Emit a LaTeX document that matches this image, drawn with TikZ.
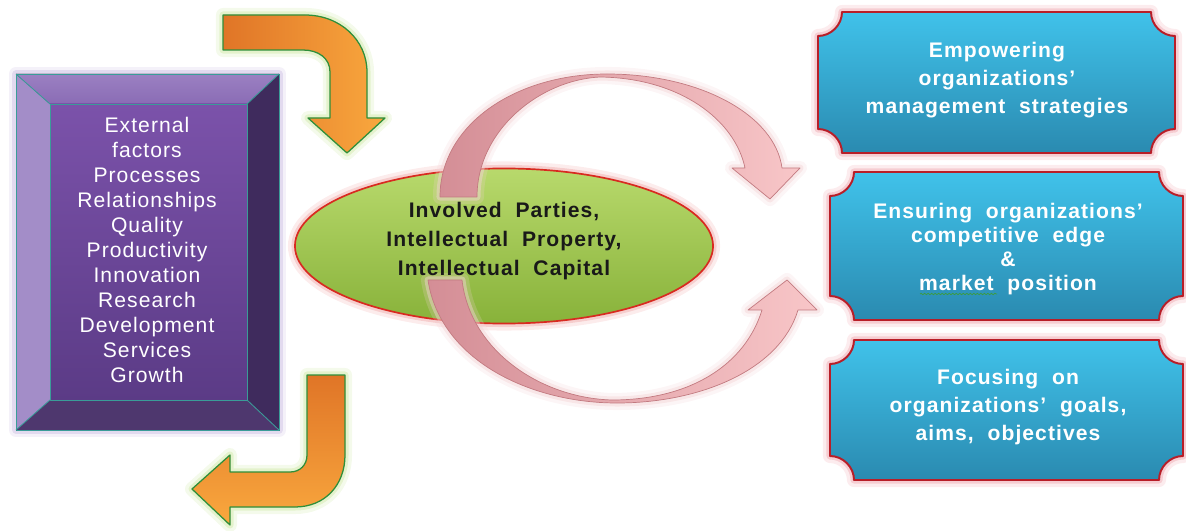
\documentclass[tikz,border=0pt]{standalone}
\usepackage{fontspec}
\usepackage{tikz}
\usetikzlibrary{shapes.geometric,decorations.pathmorphing}
\newfontfamily\diagfont[LetterSpace=5,WordSpace=2]{Liberation Sans}
\definecolor{purpleglow}{HTML}{CDBFE3}
\definecolor{bevelleft}{HTML}{A38DC8}
\definecolor{beveltopA}{HTML}{9B80C2}
\definecolor{beveltopB}{HTML}{8A6CB5}
\definecolor{bevelright}{HTML}{3F2B5D}
\definecolor{bevelbottom}{HTML}{4E376E}
\definecolor{panelA}{HTML}{7B52AA}
\definecolor{panelB}{HTML}{5B3B86}
\definecolor{bevelline}{HTML}{3A9C98}
\definecolor{arrowdark}{HTML}{E07527}
\definecolor{arrowlight}{HTML}{F9A83E}
\definecolor{arrowline}{HTML}{2F8F3A}
\definecolor{greenglow}{HTML}{CFE8A6}
\definecolor{coretop}{HTML}{B8D96C}
\definecolor{corebot}{HTML}{88B23A}
\definecolor{coreline}{HTML}{D82A20}
\definecolor{coreglow}{HTML}{F0AAAA}
\definecolor{loopdark}{HTML}{D48E96}
\definecolor{looplight}{HTML}{F8C6C8}
\definecolor{loopline}{HTML}{C27A80}
\definecolor{loopglow}{HTML}{F3D3D5}
\definecolor{plaquetop}{HTML}{40C2EA}
\definecolor{plaquebot}{HTML}{2A8AB0}
\definecolor{plaqueline}{HTML}{B81E28}
\definecolor{plaqueglow}{HTML}{F0A8B0}
\definecolor{spellgreen}{HTML}{3C9C3C}
\def\plaque(#1,#2)(#3,#4){\draw[plaquebox] (#1,{#2+24}) .. controls ({#1+13},{#2+24}) and ({#1+24},{#2+13}) .. ({#1+24},#2) -- ({#3-24},#2) .. controls ({#3-24},{#2+13}) and ({#3-13},{#2+24}) .. (#3,{#2+24}) -- (#3,{#4-24}) .. controls ({#3-13},{#4-24}) and ({#3-24},{#4-13}) .. ({#3-24},#4) -- ({#1+24},#4) .. controls ({#1+24},{#4-13}) and ({#1+13},{#4-24}) .. (#1,{#4-24}) -- cycle;}

\begin{document}
\begin{tikzpicture}[x=0.025cm, y=-0.025cm,
		glow/.style={preaction={draw=#1, line width=10pt, draw opacity=.22, line join=round}, preaction={draw=#1, line width=5pt, draw opacity=.45, line join=round}},
		bevel/.style={draw=bevelline, line width=0.6pt, line join=round},
		turnarrow/.style={draw=arrowline, line width=0.9pt, line join=round, glow=greenglow},
		loopband/.style={draw=loopline, line width=0.5pt, line join=round, glow=loopglow, left color=loopdark, right color=looplight},
		plaquebox/.style={draw=plaqueline, line width=1.4pt, line join=round, top color=plaquetop, bottom color=plaquebot, glow=plaqueglow},
		boxtext/.style={text=white, align=center, font=\diagfont\bfseries\fontsize{15}{20}\selectfont}]
			%%%%% START %%%%%
			\useasboundingbox (0,0) rectangle (1186,531);
			
			% bevelled panel
			\draw[glow=purpleglow, fill=bevelleft] (16,74) rectangle (279,430);
			\fill[top color=beveltopA, bottom color=beveltopB] (16,74) -- (279,74) -- (247,104) -- (50,104) -- cycle;
			\fill[bevelright] (279,74) -- (279,430) -- (247,400) -- (247,104) -- cycle;
			\fill[bevelbottom] (16,430) -- (279,430) -- (247,400) -- (50,400) -- cycle;
			\fill[top color=panelA, bottom color=panelB] (50,104) rectangle (247,400);
			\draw[bevel] (16,74) rectangle (279,430);
			\draw[bevel] (50,104) rectangle (247,400);
			\draw[bevel] (16,74) -- (50,104) (279,74) -- (247,104) (279,430) -- (247,400) (16,430) -- (50,400);
			\node[text=white, align=center, font=\diagfont\fontsize{15}{17.8}\selectfont] (factors) at (147,250) {External\\factors\\Processes\\Relationships\\Quality\\Productivity\\Innovation\\Research\\Development\\Services\\Growth};
			
			% orange turning arrows
			\draw[turnarrow, left color=arrowdark, right color=arrowlight] (223,15) -- (305,15) .. controls (340,15) and (367,40) .. (367,72) -- (367,118) -- (385,118) -- (347,153) -- (308,118) -- (330,118) -- (330,72) .. controls (330,58) and (318,50) .. (303,50) -- (223,50) -- cycle;
			\draw[turnarrow, top color=arrowdark, bottom color=arrowlight] (307,375) -- (345,375) -- (345,455) .. controls (345,485) and (325,507) .. (295,507) -- (230,507) -- (230,525) -- (192,489) -- (230,455) -- (230,472) -- (290,472) .. controls (300,472) and (307,465) .. (307,455) -- cycle;
			
			% centre ellipse
			\node[ellipse, minimum width=10.45cm, minimum height=3.875cm, inner sep=0pt, draw=coreline, line width=1.2pt, top color=coretop, bottom color=corebot, glow=coreglow] (core) at (504,246) {};
			
			% pink loop arrows
			\draw[loopband] (440,197) .. controls (440,125) and (515,74) .. (607,74) .. controls (700,74) and (775,115) .. (782,168) -- (800,168) -- (770,199) -- (732,168) -- (745,168) .. controls (735,120) and (680,78) .. (600,77) .. controls (540,80) and (477,130) .. (477,197) -- cycle;
			\draw[loopband] (428,280) .. controls (440,360) and (530,403) .. (617,403) .. controls (700,403) and (780,370) .. (798,310) -- (817,310) -- (787,280) -- (748,310) -- (762,310) .. controls (745,365) and (690,400) .. (612,400) .. controls (540,398) and (470,350) .. (462,280) -- cycle;
			
			\node[align=center, text=black!90, font=\diagfont\bfseries\fontsize{15}{20.6}\selectfont] (coretext) at (504,241) {Involved Parties,\\Intellectual Property,\\Intellectual Capital};
			
			% goal plaques
			\plaque(818,12)(1175,153)
			\plaque(830,172)(1183,320)
			\plaque(830,340)(1183,480)
			
			\node[boxtext] (empower) at (997,80) {Empowering\\organizations’\\management strategies};
			\node[boxtext, font=\diagfont\bfseries\fontsize{15}{17}\selectfont] (ensure) at (1008,249) {Ensuring organizations’\\competitive edge\\\&\\market position};
			\node[boxtext] (focus) at (1008,407) {Focusing on\\organizations’ goals,\\aims, objectives};
			\draw[spellgreen, line width=0.5pt, decorate, decoration={snake, amplitude=0.5pt, segment length=2.5pt}] (920,294) -- (997,294);
			
			%%%%% END %%%%%
		\end{tikzpicture}
\end{document}
